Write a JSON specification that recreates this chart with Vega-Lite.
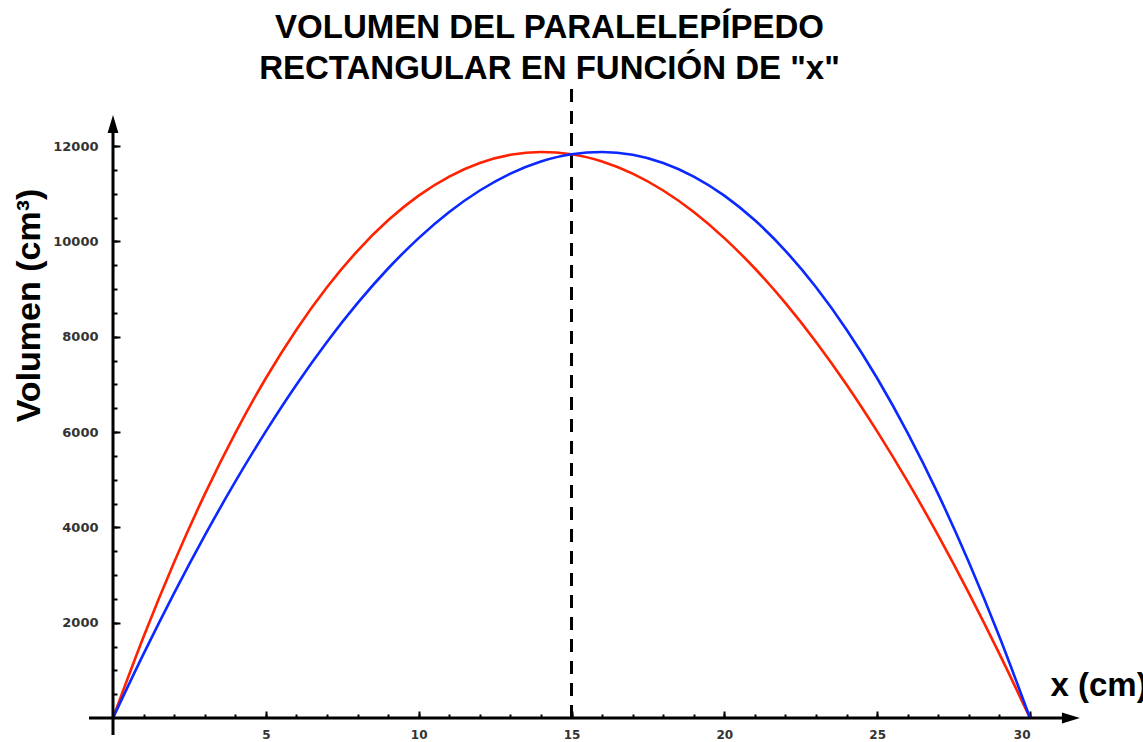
{
  "$schema": "https://vega.github.io/schema/vega-lite/v6.json",
  "width": 917,
  "height": 572,
  "autosize": {"type": "none"},
  "padding": {"left": 113, "top": 146, "right": 113, "bottom": 24},
  "background": "white",
  "config": {"view": {"stroke": null}, "axis": {"grid": false, "domain": false}},
  "title": {
    "text": ["VOLUMEN DEL PARALELEPÍPEDO", "RECTANGULAR EN FUNCIÓN DE \"x\""],
    "font": "Liberation Sans",
    "fontSize": 33,
    "fontWeight": "bold",
    "color": "black",
    "anchor": "middle",
    "lineHeight": 41,
    "offset": 1,
    "dx": -22
  },
  "datasets": {
    "curves": [
      {"x": 0, "v": 0, "serie": "rojo"},
      {"x": 1, "v": 1705, "serie": "rojo"},
      {"x": 2, "v": 3268, "serie": "rojo"},
      {"x": 3, "v": 4691, "serie": "rojo"},
      {"x": 4, "v": 5977, "serie": "rojo"},
      {"x": 5, "v": 7128, "serie": "rojo"},
      {"x": 6, "v": 8147, "serie": "rojo"},
      {"x": 7, "v": 9037, "serie": "rojo"},
      {"x": 8, "v": 9801, "serie": "rojo"},
      {"x": 9, "v": 10441, "serie": "rojo"},
      {"x": 10, "v": 10959, "serie": "rojo"},
      {"x": 11, "v": 11359, "serie": "rojo"},
      {"x": 12, "v": 11644, "serie": "rojo"},
      {"x": 13, "v": 11815, "serie": "rojo"},
      {"x": 14, "v": 11875, "serie": "rojo"},
      {"x": 15, "v": 11828, "serie": "rojo"},
      {"x": 16, "v": 11676, "serie": "rojo"},
      {"x": 17, "v": 11421, "serie": "rojo"},
      {"x": 18, "v": 11066, "serie": "rojo"},
      {"x": 19, "v": 10615, "serie": "rojo"},
      {"x": 20, "v": 10068, "serie": "rojo"},
      {"x": 21, "v": 9430, "serie": "rojo"},
      {"x": 22, "v": 8703, "serie": "rojo"},
      {"x": 23, "v": 7890, "serie": "rojo"},
      {"x": 24, "v": 6993, "serie": "rojo"},
      {"x": 25, "v": 6014, "serie": "rojo"},
      {"x": 26, "v": 4958, "serie": "rojo"},
      {"x": 27, "v": 3825, "serie": "rojo"},
      {"x": 28, "v": 2620, "serie": "rojo"},
      {"x": 29, "v": 1344, "serie": "rojo"},
      {"x": 30, "v": 0, "serie": "rojo"},
      {"x": 0, "v": 0, "serie": "azul"},
      {"x": 1, "v": 1344, "serie": "azul"},
      {"x": 2, "v": 2620, "serie": "azul"},
      {"x": 3, "v": 3825, "serie": "azul"},
      {"x": 4, "v": 4958, "serie": "azul"},
      {"x": 5, "v": 6014, "serie": "azul"},
      {"x": 6, "v": 6993, "serie": "azul"},
      {"x": 7, "v": 7890, "serie": "azul"},
      {"x": 8, "v": 8703, "serie": "azul"},
      {"x": 9, "v": 9430, "serie": "azul"},
      {"x": 10, "v": 10068, "serie": "azul"},
      {"x": 11, "v": 10615, "serie": "azul"},
      {"x": 12, "v": 11066, "serie": "azul"},
      {"x": 13, "v": 11421, "serie": "azul"},
      {"x": 14, "v": 11676, "serie": "azul"},
      {"x": 15, "v": 11828, "serie": "azul"},
      {"x": 16, "v": 11875, "serie": "azul"},
      {"x": 17, "v": 11815, "serie": "azul"},
      {"x": 18, "v": 11644, "serie": "azul"},
      {"x": 19, "v": 11359, "serie": "azul"},
      {"x": 20, "v": 10959, "serie": "azul"},
      {"x": 21, "v": 10441, "serie": "azul"},
      {"x": 22, "v": 9801, "serie": "azul"},
      {"x": 23, "v": 9037, "serie": "azul"},
      {"x": 24, "v": 8147, "serie": "azul"},
      {"x": 25, "v": 7128, "serie": "azul"},
      {"x": 26, "v": 5977, "serie": "azul"},
      {"x": 27, "v": 4691, "serie": "azul"},
      {"x": 28, "v": 3268, "serie": "azul"},
      {"x": 29, "v": 1705, "serie": "azul"},
      {"x": 30, "v": 0, "serie": "azul"}
    ]
  },
  "layer": [
    {
      "data": {"values": [{"x": 15, "y": 0, "y2": 13216}]},
      "mark": {"type": "rule", "strokeDash": [13, 9], "strokeWidth": 3, "color": "black"},
      "encoding": {
        "x": {
          "field": "x", "type": "quantitative",
          "scale": {"domain": [0, 30], "nice": false, "zero": false},
          "axis": {
            "orient": "bottom", "values": [1,2,3,4,5,6,7,8,9,10,11,12,13,14,15,16,17,18,19,20,21,22,23,24,25,26,27,28,29,30],
            "labels": false, "tickSize": -4, "tickWidth": 2, "tickColor": "black", "domain": false, "grid": false, "title": null
          }
        },
        "y": {
          "field": "y", "type": "quantitative",
          "scale": {"domain": [0, 12000], "nice": false},
          "axis": {
            "orient": "left", "values": [500,1000,1500,2000,2500,3000,3500,4000,4500,5000,5500,6000,6500,7000,7500,8000,8500,9000,9500,10000,10500,11000,11500,12000],
            "labels": false, "tickSize": -4, "tickWidth": 2, "tickColor": "black", "domain": false, "grid": false, "title": null
          }
        },
        "y2": {"field": "y2"}
      }
    },
    {
      "data": {"name": "curves"},
      "mark": {"type": "line", "strokeWidth": 2.6, "interpolate": "monotone"},
      "encoding": {
        "x": {
          "field": "x", "type": "quantitative",
          "axis": {
            "orient": "bottom", "values": [5, 10, 15, 20, 25, 30], "format": "d",
            "tickSize": -7, "tickWidth": 2, "tickColor": "black", "domain": false, "grid": false,
            "labelFont": "DejaVu Sans", "labelFontWeight": "bold", "labelFontSize": 12, "labelColor": "#333333", "labelPadding": 18,
            "title": "x (cm)", "titleFont": "Liberation Sans", "titleFontSize": 33, "titleFontWeight": "bold", "titleColor": "black",
            "titleAngle": 0, "titleX": 937, "titleY": -23, "titleAlign": "left", "titleBaseline": "alphabetic"
          }
        },
        "y": {
          "field": "v", "type": "quantitative",
          "axis": {
            "orient": "left", "values": [2000, 4000, 6000, 8000, 10000, 12000], "format": "d",
            "tickSize": -7, "tickWidth": 2, "tickColor": "black", "domain": false, "grid": false,
            "labelFont": "DejaVu Sans", "labelFontWeight": "bold", "labelFontSize": 13, "labelColor": "#333333", "labelPadding": 22,
            "title": "Volumen (cm³)", "titleFont": "Liberation Sans", "titleFontSize": 34, "titleFontWeight": "bold", "titleColor": "black",
            "titleAngle": -90, "titleX": -84, "titleY": 159, "titleAlign": "center", "titleBaseline": "middle"
          }
        },
        "color": {
          "field": "serie", "type": "nominal",
          "scale": {"domain": ["rojo", "azul"], "range": ["#ff2200", "#0a28ff"]},
          "legend": null
        }
      }
    },
    {
      "data": {"values": [{"x": -0.785, "x2": 31.1, "y": 0}]},
      "mark": {"type": "rule", "strokeWidth": 3, "color": "black"},
      "encoding": {
        "x": {"field": "x", "type": "quantitative", "axis": null},
        "x2": {"field": "x2"},
        "y": {"field": "y", "type": "quantitative", "axis": null}
      }
    },
    {
      "data": {"values": [{"x": 0, "y": -357, "y2": 12300}]},
      "mark": {"type": "rule", "strokeWidth": 3, "color": "black"},
      "encoding": {
        "x": {"field": "x", "type": "quantitative", "axis": null},
        "y": {"field": "y", "type": "quantitative", "axis": null},
        "y2": {"field": "y2"}
      }
    },
    {
      "data": {"values": [{"x": 0, "y": 12461, "a": 0}, {"x": 31.34, "y": 0, "a": 90}]},
      "mark": {"type": "point", "filled": true, "opacity": 1, "color": "black", "size": 324, "shape": "M0,-1L0.6,1L-0.6,1Z"},
      "encoding": {
        "x": {"field": "x", "type": "quantitative", "axis": null},
        "y": {"field": "y", "type": "quantitative", "axis": null},
        "angle": {"field": "a", "type": "quantitative", "scale": null}
      }
    }
  ],
  "resolve": {"axis": {"x": "independent", "y": "independent"}}
}
